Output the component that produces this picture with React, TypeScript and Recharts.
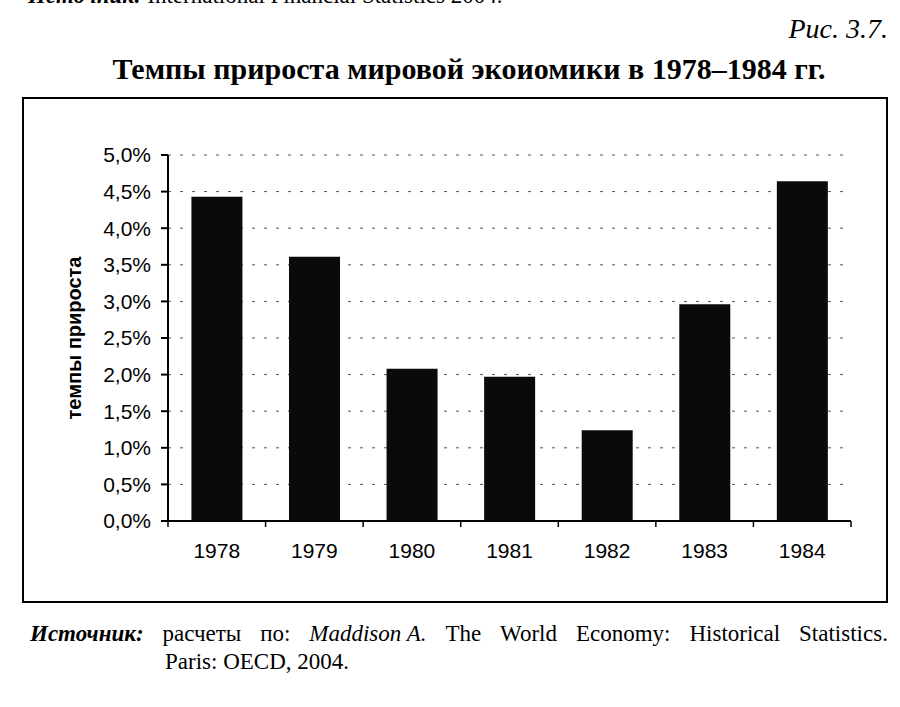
import React from 'react';
import { BarChart, Bar, XAxis, YAxis, CartesianGrid } from 'recharts';

const YEARS = ['1978', '1979', '1980', '1981', '1982', '1983', '1984'];
const GROWTH = [0.0443, 0.0361, 0.0208, 0.0197, 0.0124, 0.0296, 0.0464];
const Y_TICKS = [0, 0.005, 0.01, 0.015, 0.02, 0.025, 0.03, 0.035, 0.04, 0.045, 0.05];

const data = YEARS.map((year, i) => ({ year, value: GROWTH[i] }));

const SANS = 'Arial, "Liberation Sans", sans-serif';
const SERIF = '"Times New Roman", "Liberation Serif", serif';

const CHART_W = 866;
const CHART_H = 506;
const MARGIN = { top: 58, right: 37, bottom: 42, left: 46 };
const Y_W = 100;
const PLOT_W = CHART_W - MARGIN.left - MARGIN.right - Y_W;

const fmtPct = (v: number) => (v * 100).toFixed(1).replace('.', ',') + '%';

// year label + tick marks at the category boundaries
function YearTick(props: any) {
  const { x, y, payload, index } = props;
  const half = PLOT_W / YEARS.length / 2;
  return (
    <g>
      <line x1={x - half} y1={y - 8} x2={x - half} y2={y - 2} stroke="#000" strokeWidth={1.5} />
      {index === YEARS.length - 1 && (
        <line x1={x + half} y1={y - 8} x2={x + half} y2={y - 2} stroke="#000" strokeWidth={1.5} />
      )}
      <text x={x} y={y + 29} textAnchor="middle" fontFamily={SANS} fontSize={21} fill="#000">
        {payload.value}
      </text>
    </g>
  );
}

export default function App() {
  return (
    <div style={{ position: 'absolute', left: 0, top: 0, width: 900, height: 707, background: '#fff', overflow: 'hidden' }}>
      <div style={{ position: 'absolute', left: 28, top: -17, fontFamily: SERIF, fontSize: 23, whiteSpace: 'nowrap' }}>
        <b><i>Источник:</i></b> International Financial Statistics 2004.
      </div>
      <div style={{ position: 'absolute', right: 12, top: 13, fontFamily: SERIF, fontSize: 28, fontStyle: 'italic' }}>
        Рис. 3.7.
      </div>
      <div style={{ position: 'absolute', left: 0, width: 938, top: 52, textAlign: 'center', fontFamily: SERIF, fontSize: 30, fontWeight: 'bold', whiteSpace: 'nowrap' }}>
        Темпы прироста мировой экоиомики в 1978–1984 гг.
      </div>

      <div style={{ position: 'absolute', left: 22, top: 97, width: CHART_W, height: CHART_H, boxSizing: 'border-box', border: '2px solid #000' }}>
        <div style={{ position: 'absolute', left: -2, top: -2 }}>
          <BarChart width={CHART_W} height={CHART_H} data={data} margin={MARGIN} barCategoryGap="24%">
            <CartesianGrid vertical={false} stroke="#555" strokeDasharray="3 9" />
            <XAxis
              dataKey="year"
              axisLine={{ stroke: '#000', strokeWidth: 2 }}
              tickLine={false}
              tick={<YearTick />}
              interval={0}
              height={40}
            />
            <YAxis
              domain={[0, 0.05]}
              ticks={Y_TICKS}
              tickFormatter={fmtPct}
              width={Y_W}
              interval={0}
              axisLine={{ stroke: '#000', strokeWidth: 2 }}
              tickLine={{ stroke: '#000', strokeWidth: 2 }}
              tickSize={7}
              tick={{ fontFamily: SANS, fontSize: 21, fill: '#000', dx: -8 }}
              label={{
                value: 'темпы прироста',
                angle: -90,
                position: 'insideLeft',
                offset: 6,
                style: { textAnchor: 'middle', fontFamily: SANS, fontSize: 20, fontWeight: 'bold', fill: '#000' },
              }}
            />
            <Bar dataKey="value" fill="#0a0a0a" isAnimationActive={false} />
          </BarChart>
        </div>
      </div>

      <div style={{ position: 'absolute', left: 30, top: 620, width: 858, fontFamily: SERIF, fontSize: 23, lineHeight: '28px' }}>
        <div style={{ whiteSpace: 'nowrap', display: 'flex', justifyContent: 'space-between' }}>
          <span style={{ fontWeight: 'bold', fontStyle: 'italic' }}>Источник:</span>
          <span>расчеты</span>
          <span>по:</span>
          <span><i>Maddison A.</i></span>
          <span>The</span>
          <span>World</span>
          <span>Economy:</span>
          <span>Historical</span>
          <span>Statistics.</span>
        </div>
        <div style={{ paddingLeft: 135 }}>Paris: OECD, 2004.</div>
      </div>
    </div>
  );
}
